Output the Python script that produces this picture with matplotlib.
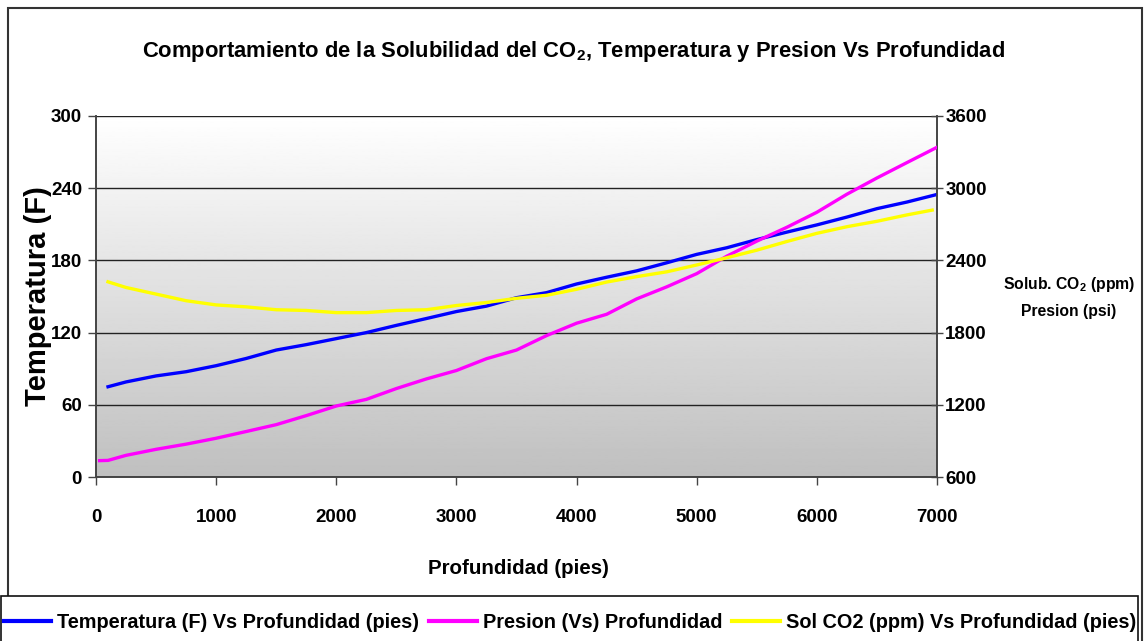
import numpy as np
import matplotlib
matplotlib.use('Agg')
import matplotlib.pyplot as plt
from matplotlib.patches import Rectangle
from matplotlib.lines import Line2D

FONT = ['Liberation Sans', 'DejaVu Sans']
plt.rcParams['font.family'] = FONT
plt.rcParams['font.weight'] = 'bold'
plt.rcParams['mathtext.fontset'] = 'custom'
plt.rcParams['mathtext.rm'] = 'Liberation Sans:bold'
plt.rcParams['mathtext.default'] = 'rm'

# depth (ft) grid for temperature
depth_temp = [100, 250, 500, 750, 1000, 1250, 1500, 1750, 2000, 2250, 2500,
              2750, 3000, 3250, 3500, 3750, 4000, 4250, 4500, 4750, 5000,
              5250, 5500, 5750, 6000, 6250, 6500, 6750, 7000]
temperatura = [75, 79, 84, 87.5, 92.5, 98.5, 105.5, 110, 115, 120, 126,
               131.7, 137.5, 142, 149, 153.2, 160.4, 166, 171.3, 178, 185,
               190.5, 197.3, 203.5, 209.5, 216, 223, 228.5, 234.8]

# pressure (psi)
depth_pres = [30, 100, 250, 500, 750, 1000, 1250, 1500, 1750, 2000, 2250,
              2500, 2750, 3000, 3250, 3500, 3750, 4000, 4250, 4500, 4750,
              5000, 5250, 5500, 5750, 6000, 6250, 6500, 6750, 7000]
presion = [736, 738, 780, 830, 873, 922, 978, 1035, 1110, 1190, 1245,
           1335, 1415, 1485, 1583, 1655, 1775, 1878, 1952, 2080, 2180,
           2290, 2435, 2560, 2675, 2800, 2950, 3085, 3213, 3340]

# CO2 solubility (ppm)
depth_sol = [100, 250, 500, 750, 1000, 1250, 1500, 1750, 2000, 2250, 2500,
             2750, 3000, 3250, 3500, 3750, 4000, 4250, 4500, 4750, 5000,
             5250, 5500, 5750, 6000, 6250, 6500, 6750, 6960]
solubilidad = [2222, 2175, 2120, 2065, 2030, 2014, 1990, 1984, 1966, 1966, 1984,
               1990, 2025, 2050, 2085, 2110, 2160, 2220, 2265, 2305, 2362,
               2422, 2485, 2557, 2625, 2680, 2725, 2778, 2818]

W, H = 1147, 641
fig = plt.figure(figsize=(W / 100, H / 100), dpi=100)


def fx(px):
    return px / W


def fy(py):
    return 1 - py / H


# outer chart frame and legend box
fig.add_artist(Rectangle((fx(8), fy(660)), fx(1142) - fx(8), fy(8) - fy(660),
                         transform=fig.transFigure, fill=False,
                         edgecolor='#333333', linewidth=1.5))
fig.add_artist(Rectangle((fx(1), fy(660)), fx(1138) - fx(1), fy(596) - fy(660),
                         transform=fig.transFigure, facecolor='white',
                         edgecolor='#111111', linewidth=1.2, zorder=2))

ax = fig.add_axes([fx(96), fy(477), fx(937) - fx(96), fy(116) - fy(477)])
ax2 = ax.twinx()

# grey gradient plot area, white at the top
grad = np.linspace(1, 0, 256).reshape(-1, 1)
ax.imshow(grad, extent=[0, 7000, 0, 300], aspect='auto', cmap='gray',
          vmin=-3.0, vmax=1.0, origin='upper', zorder=0)
ax.set_xlim(0, 7000)
ax.set_ylim(0, 300)
ax2.set_ylim(600, 3600)

ax.set_xticks(range(0, 7001, 1000))
ax.set_yticks(range(0, 301, 60))
ax2.set_yticks(range(600, 3601, 600))
ax.yaxis.grid(True, color='#222222', linewidth=1.0)
ax.set_axisbelow(False)
ax.grid(False, axis='x')

ax.plot(depth_temp, temperatura, color='#0000ff', linewidth=2.4, zorder=3)
ax2.plot(depth_pres, presion, color='#ff00ff', linewidth=2.4, zorder=3)
ax2.plot(depth_sol, solubilidad, color='#ffff00', linewidth=2.4, zorder=3)

for a in (ax, ax2):
    for s in a.spines.values():
        s.set_color('#444444')
        s.set_linewidth(1.2)
    a.spines['top'].set_visible(False)

ax.tick_params(axis='both', labelsize=13.5, length=6, width=1, color='#444444')
ax.tick_params(axis='x', pad=17)
ax.tick_params(axis='y', pad=4)
ax2.tick_params(axis='y', labelsize=13.5, direction='inout', length=8, width=1,
                color='#444444', pad=2)
for lab in ax.get_xticklabels() + ax.get_yticklabels() + ax2.get_yticklabels():
    lab.set_fontweight('bold')

fig.text(0.5, fy(51), 'Comportamiento de la Solubilidad del CO$_2$, Temperatura y Presion Vs Profundidad',
         ha='center', va='center', fontsize=15.8, fontweight='bold')
fig.text(fx(518), fy(568), 'Profundidad (pies)', ha='center', va='center',
         fontsize=14.8, fontweight='bold')
fig.text(fx(38), fy(296), 'Temperatura (F)', ha='center', va='center', rotation=90,
         fontsize=21, fontweight='bold')
fig.text(fx(1069), fy(297), 'Solub. CO$_2$ (ppm)\nPresion (psi)', ha='center',
         va='center', fontsize=11.3, fontweight='bold', linespacing=1.9)

handles = [Line2D([], [], color='#0000ff', linewidth=3),
           Line2D([], [], color='#ff00ff', linewidth=3),
           Line2D([], [], color='#ffff00', linewidth=3)]
labels = ['Temperatura (F) Vs Profundidad (pies)', 'Presion (Vs) Profundidad',
          'Sol CO2 (ppm) Vs Profundidad (pies)']
leg = fig.legend(handles, labels, loc='center', bbox_to_anchor=(fx(570), fy(622)),
                 ncol=3, frameon=False, handlelength=2.4,
                 handletextpad=0.3, columnspacing=0.5,
                 prop={'weight': 'bold', 'size': 14.3})
leg.set_zorder(5)

fig.savefig('out.png', dpi=100)
